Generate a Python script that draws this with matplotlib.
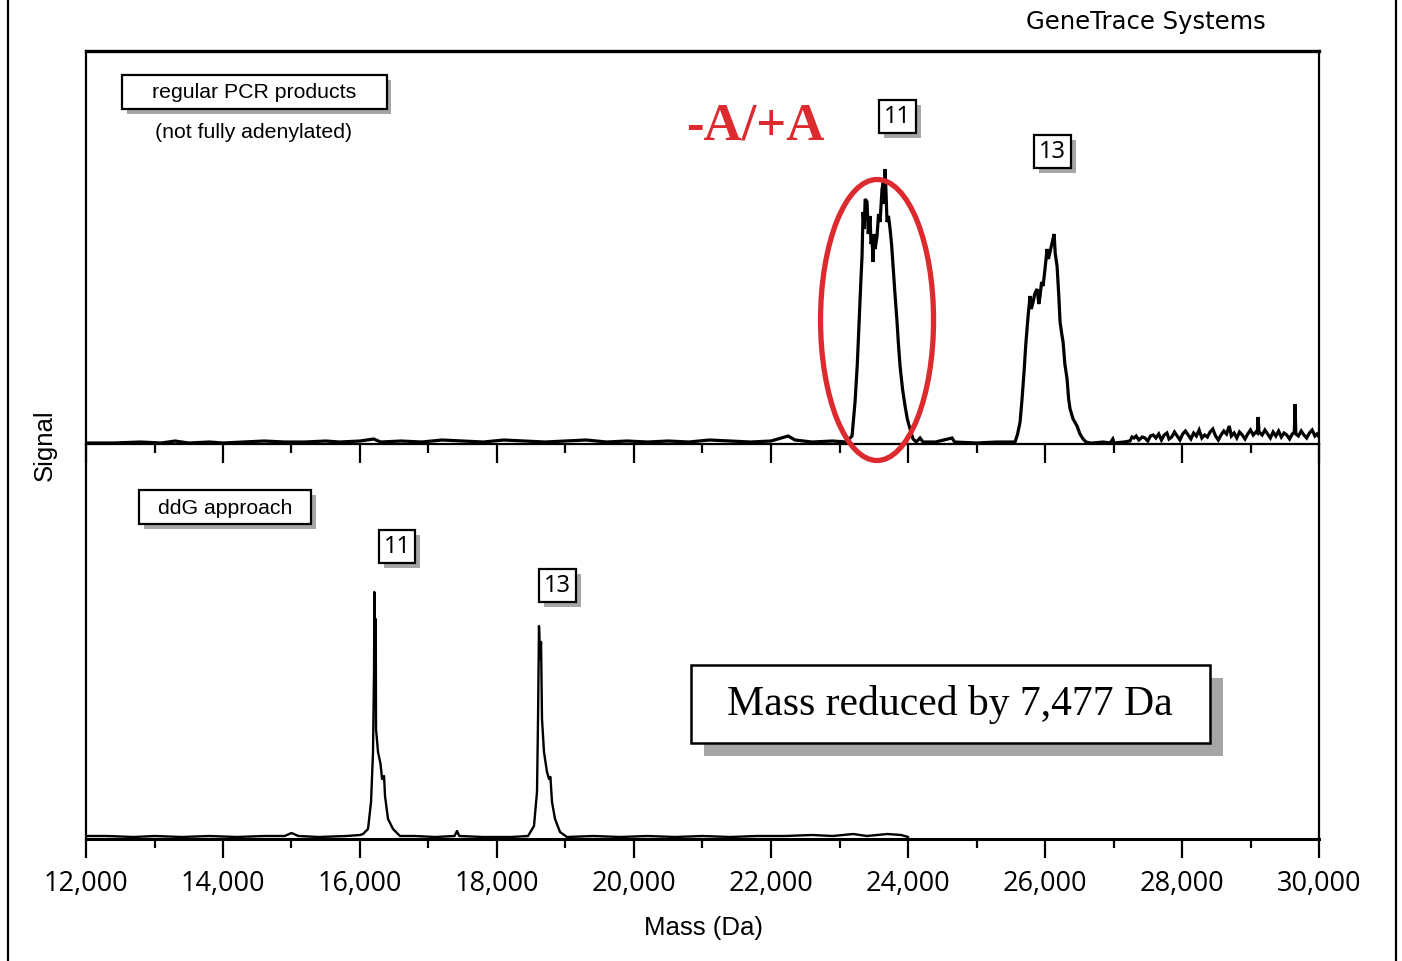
"""
GeneTrace mass spectra: regular PCR products vs. ddG approach.
"""

import matplotlib
matplotlib.use("Agg")
import matplotlib.pyplot as plt
from matplotlib.lines import Line2D
from matplotlib.patches import Rectangle, Ellipse
from matplotlib.ticker import MultipleLocator, FuncFormatter

W, H = 1402, 962
RED = "#dd2a2f"
SHADOW = "#a6a6a6"
SANS = "Liberation Sans"
SERIF = "Liberation Serif"

# --- data (mass in Da, signal in relative units) ---
TOP_MASS = [
    12000, 12400, 12800, 13100, 13300, 13500, 13800, 14000, 14300, 14600,
    14900, 15200, 15500, 15700, 16000, 16200, 16300, 16600, 16900, 17200,
    17500, 17800, 18100, 18400, 18700, 19000, 19300, 19600, 19900, 20200,
    20500, 20800, 21100, 21400, 21700, 22000, 22150, 22250, 22350, 22600,
    22900, 23100,
    # peak "11" (-A/+A doublet)
    23183, 23227, 23260, 23286, 23310, 23329, 23344, 23360, 23375, 23402,
    23420, 23446, 23460, 23475, 23490, 23505, 23520, 23548, 23570, 23592,
    23621, 23640, 23655, 23665, 23680, 23694, 23715, 23738, 23760, 23782,
    23810, 23840, 23860, 23884, 23920, 23957, 23990, 24030, 24074, 24120,
    24176, 24220, 24400, 24643, 24680, 25000, 25300,
    # peak "13"
    25563, 25600, 25636, 25665, 25694, 25720, 25753, 25782, 25800, 25826,
    25850, 25884, 25910, 25928, 25950, 25972, 26000, 26030, 26050, 26074,
    26100, 26133, 26150, 26176, 26200, 26220, 26245, 26264, 26290, 26322,
    26345, 26366, 26410, 26468, 26510, 26556, 26600, 26658,
    # noisy high-mass tail
    26700, 26850, 26950, 26990, 27010, 27150, 27240, 27270, 27300, 27330,
    27370, 27420, 27460, 27500, 27540, 27580, 27620, 27660, 27700, 27740,
    27780, 27810, 27850, 27890, 27930, 27970, 28010, 28050, 28090, 28130,
    28170, 28210, 28250, 28290, 28330, 28370, 28410, 28450, 28490, 28530,
    28570, 28610, 28650, 28690, 28720, 28760, 28800, 28840, 28880, 28920,
    28960, 29000, 29040, 29080, 29100, 29110, 29125, 29170, 29210, 29250,
    29290, 29330, 29370, 29410, 29450, 29490, 29530, 29570, 29610, 29640,
    29650, 29662, 29700, 29740, 29780, 29820, 29860, 29900, 29940, 29970,
    30000,
]
TOP_SIGNAL = [
    1, 1, 2, 1, 3, 1, 2, 1, 2, 3,
    2, 2, 3, 2, 3, 5, 2, 3, 2, 4,
    3, 2, 4, 3, 2, 3, 4, 2, 3, 2,
    3, 2, 4, 3, 2, 3, 6, 8, 4, 2,
    3, 2,
    8, 42, 80, 122, 160, 188, 232, 215, 245, 242,
    210, 228, 200, 205, 182, 210, 195, 208, 230, 222,
    255, 262, 240, 275, 250, 222, 228, 215, 200, 178,
    150, 122, 100, 78, 55, 38, 25, 15, 5, 2,
    6, 2, 2, 6, 2, 1, 2,
    2, 10, 22, 45, 72, 100, 128, 148, 135, 142,
    150, 155, 140, 148, 162, 158, 175, 195, 185, 192,
    200, 210, 190, 178, 150, 122, 110, 102, 80, 65,
    45, 35, 25, 18, 10, 5, 2, 1,
    1, 2, 1, 5, 1, 2, 3, 7, 6, 8,
    4, 7, 6, 3, 8, 9, 6, 10, 4, 9,
    11, 5, 7, 12, 8, 4, 10, 13, 9, 5,
    11, 8, 14, 6, 9, 7, 12, 15, 8, 4,
    9, 13, 10, 18, 8, 11, 6, 12, 9, 5,
    10, 14, 9, 12, 11, 27, 12, 9, 14, 10,
    6, 12, 8, 13, 7, 11, 9, 5, 10, 12,
    40, 10, 8, 13, 9, 6, 11, 14, 8, 10,
    7,
]

BOTTOM_MASS = [
    12000, 12300, 12700, 13000, 13400, 13800, 14200, 14600, 14900, 15000,
    15100, 15400, 15800, 16000,
    # peak "11"
    16044, 16117, 16161, 16190, 16205, 16209, 16222, 16230, 16234, 16263,
    16300, 16322, 16351, 16365, 16409, 16482, 16584,
    16800, 17100, 17380, 17416, 17450, 17800, 18200,
    # peak "13"
    18453, 18540, 18584, 18599, 18613, 18630, 18643, 18657, 18686, 18730,
    18759, 18780, 18803, 18847, 18920, 19022,
    19400, 19800, 20200, 20600, 21000, 21400, 21800, 22200, 22600, 22900,
    23200, 23400, 23700, 23900, 24000,
]
BOTTOM_SIGNAL = [
    3, 3, 2, 3, 2, 3, 2, 3, 3, 6,
    3, 2, 3, 4,
    5, 10, 37, 87, 170, 247, 200, 220, 110, 87,
    75, 60, 63, 43, 20, 10, 3,
    3, 2, 3, 8, 3, 2, 2,
    3, 13, 47, 120, 213, 180, 197, 120, 87, 67,
    60, 62, 37, 20, 7, 2,
    3, 2, 3, 2, 3, 2, 3, 3, 4, 3,
    5, 3, 5, 4, 2,
]


def fx(x):
    return x / W


def fy(y):
    return 1 - y / H


def boxed_label(cx, cy, w, h, text, size, family, shadow=5, lw=1.6):
    fig.add_artist(Rectangle((fx(cx - w / 2 + shadow), fy(cy + h / 2 + shadow)),
                             w / W, h / H, transform=fig.transFigure,
                             facecolor=SHADOW, edgecolor="none", zorder=5))
    fig.add_artist(Rectangle((fx(cx - w / 2), fy(cy + h / 2)), w / W, h / H,
                             transform=fig.transFigure, facecolor="white",
                             edgecolor="black", lw=lw, zorder=6))
    fig.text(fx(cx), fy(cy), text, fontsize=size, family=family,
             ha="center", va="center", zorder=7)


fig = plt.figure(figsize=(W / 100, H / 100), dpi=100)
fig.patch.set_facecolor("white")

ax_top = fig.add_axes([fx(86), fy(445), fx(1319) - fx(86), fy(52) - fy(445)])
ax_bot = fig.add_axes([fx(86), fy(840), fx(1319) - fx(86), fy(445) - fy(840)])

ax_top.plot(TOP_MASS, TOP_SIGNAL, color="black", lw=2.3, solid_joinstyle="miter")
ax_bot.plot(BOTTOM_MASS, BOTTOM_SIGNAL, color="black", lw=1.7)

for ax in (ax_top, ax_bot):
    ax.set_xlim(12000, 30000)
    ax.set_facecolor("none")
    ax.xaxis.set_major_locator(MultipleLocator(2000))
    ax.xaxis.set_minor_locator(MultipleLocator(1000))
    ax.tick_params(axis="x", which="major", direction="out", length=13.5, width=1.6)
    ax.tick_params(axis="x", which="minor", direction="out", length=6.5, width=1.6)
    ax.set_yticks([])
    for side in ("left", "right", "bottom"):
        ax.spines[side].set_linewidth(1.6)

ax_top.set_ylim(0, 393)
ax_top.spines["top"].set_linewidth(2.4)
ax_top.tick_params(axis="x", labelbottom=False)

ax_bot.set_ylim(0, 395)
ax_bot.spines["top"].set_visible(False)
ax_bot.spines["bottom"].set_linewidth(2.2)
ax_bot.xaxis.set_major_formatter(FuncFormatter(lambda v, p: f"{int(v):,}"))
ax_bot.tick_params(axis="x", which="major", pad=8, labelsize=19.5)
for lab in ax_bot.get_xticklabels():
    lab.set_family("Open Sans")

# red ellipse around the -A/+A doublet
ax_top.add_patch(Ellipse((23548, 124), 1650, 281, fill=False, edgecolor=RED,
                         lw=3.8, clip_on=False, zorder=4))

# axis titles and header
fig.text(fx(45), fy(445), "Signal", rotation=90, fontsize=18.5, family=SANS,
         ha="center", va="center")
fig.text(fx(703), fy(928), "Mass (Da)", fontsize=18.5, family=SANS,
         ha="center", va="center")
fig.text(fx(1146), fy(22), "GeneTrace Systems", fontsize=17.5,
         family="DejaVu Sans", ha="center", va="center")

# panel labels
boxed_label(254, 93, 265, 34, "regular PCR products", 15.3, SANS, shadow=5)
fig.text(fx(254), fy(132), "(not fully adenylated)", fontsize=15.3, family=SANS,
         ha="center", va="center")
boxed_label(225, 508, 172, 34, "ddG approach", 15.3, SANS, shadow=5)

NUM_FONT = "Noto Sans"
boxed_label(897, 117, 37, 33, "11", 17, NUM_FONT, shadow=5)
boxed_label(1052, 152, 37, 33, "13", 17, NUM_FONT, shadow=5)
boxed_label(397, 547, 36, 33, "11", 17, NUM_FONT, shadow=5)
boxed_label(557, 586, 37, 33, "13", 17, NUM_FONT, shadow=5)

fig.text(fx(755), fy(127), "-A/+A", fontsize=38, family=SERIF, weight="bold",
         color=RED, ha="center", va="center")

boxed_label(950, 705, 519, 78, "Mass reduced by 7,477 Da", 30, SERIF,
            shadow=13, lw=1.8)

# page border (left and right rules)
for x in (8, 1396):
    fig.add_artist(Line2D([fx(x), fx(x)], [0, 1], transform=fig.transFigure,
                          color="black", lw=1.6))

fig.savefig("out.png", dpi=100)
